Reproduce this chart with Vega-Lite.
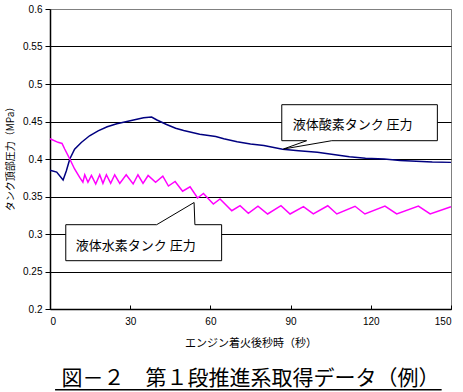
{
  "$schema": "https://vega.github.io/schema/vega-lite/v6.json",
  "width": 401,
  "height": 300,
  "autosize": "none",
  "padding": {"left": 50, "top": 9, "right": 12, "bottom": 83},
  "background": "white",
  "config": {
    "view": {"stroke": "#808080", "strokeWidth": 1},
    "axis": {"domainColor": "black", "tickColor": "black", "labelColor": "black", "titleColor": "black", "labelFont": "Liberation Sans", "labelFontSize": 10, "titleFont": "Noto Sans CJK JP", "titleFontWeight": "normal"}
  },
  "title": {"text": "図－２　第１段推進系取得データ（例）", "orient": "bottom", "offset": -22, "fontSize": 21, "font": "Noto Sans CJK JP", "fontWeight": "normal", "color": "black", "anchor": "middle"},
  "datasets": {
    "series": [
      {"s": "LOX", "t": 0, "v": 0.385}, {"s": "LOX", "t": 2.5, "v": 0.3825}, {"s": "LOX", "t": 4.9, "v": 0.372}, {"s": "LOX", "t": 6.1, "v": 0.384}, {"s": "LOX", "t": 7.4, "v": 0.4}, {"s": "LOX", "t": 9.2, "v": 0.413}, {"s": "LOX", "t": 11.7, "v": 0.422}, {"s": "LOX", "t": 14.8, "v": 0.431}, {"s": "LOX", "t": 18, "v": 0.4375}, {"s": "LOX", "t": 21.4, "v": 0.443}, {"s": "LOX", "t": 25, "v": 0.447}, {"s": "LOX", "t": 30, "v": 0.451}, {"s": "LOX", "t": 35, "v": 0.455}, {"s": "LOX", "t": 38, "v": 0.456}, {"s": "LOX", "t": 40, "v": 0.452}, {"s": "LOX", "t": 43.6, "v": 0.446}, {"s": "LOX", "t": 47, "v": 0.441}, {"s": "LOX", "t": 50, "v": 0.438}, {"s": "LOX", "t": 56, "v": 0.433}, {"s": "LOX", "t": 62, "v": 0.43}, {"s": "LOX", "t": 65, "v": 0.427}, {"s": "LOX", "t": 70, "v": 0.423}, {"s": "LOX", "t": 75, "v": 0.42}, {"s": "LOX", "t": 80, "v": 0.418}, {"s": "LOX", "t": 87, "v": 0.413}, {"s": "LOX", "t": 93, "v": 0.411}, {"s": "LOX", "t": 100, "v": 0.409}, {"s": "LOX", "t": 106, "v": 0.406}, {"s": "LOX", "t": 112, "v": 0.403}, {"s": "LOX", "t": 118, "v": 0.401}, {"s": "LOX", "t": 125, "v": 0.4}, {"s": "LOX", "t": 131, "v": 0.398}, {"s": "LOX", "t": 137, "v": 0.397}, {"s": "LOX", "t": 143, "v": 0.396}, {"s": "LOX", "t": 150, "v": 0.3955},
      {"s": "LH2", "t": 0, "v": 0.427}, {"s": "LH2", "t": 3, "v": 0.4222}, {"s": "LH2", "t": 4.5, "v": 0.4208}, {"s": "LH2", "t": 5.5, "v": 0.4133}, {"s": "LH2", "t": 7.4, "v": 0.4}, {"s": "LH2", "t": 9.2, "v": 0.3867}, {"s": "LH2", "t": 11.1, "v": 0.3755}, {"s": "LH2", "t": 12.3, "v": 0.369},
      {"s": "LH2", "t": 13.0, "v": 0.379}, {"s": "LH2", "t": 14.2, "v": 0.369}, {"s": "LH2", "t": 15.5, "v": 0.378}, {"s": "LH2", "t": 17.1, "v": 0.3667}, {"s": "LH2", "t": 18.6, "v": 0.379}, {"s": "LH2", "t": 19.8, "v": 0.3675}, {"s": "LH2", "t": 21.1, "v": 0.379}, {"s": "LH2", "t": 22.7, "v": 0.3675}, {"s": "LH2", "t": 24.2, "v": 0.379}, {"s": "LH2", "t": 26.1, "v": 0.3675}, {"s": "LH2", "t": 28.5, "v": 0.379}, {"s": "LH2", "t": 31.1, "v": 0.3667}, {"s": "LH2", "t": 32.9, "v": 0.379}, {"s": "LH2", "t": 34.8, "v": 0.3675}, {"s": "LH2", "t": 36.7, "v": 0.378}, {"s": "LH2", "t": 39.5, "v": 0.369}, {"s": "LH2", "t": 42.2, "v": 0.377}, {"s": "LH2", "t": 44.3, "v": 0.364}, {"s": "LH2", "t": 46.8, "v": 0.37}, {"s": "LH2", "t": 49.6, "v": 0.357}, {"s": "LH2", "t": 52.4, "v": 0.363}, {"s": "LH2", "t": 55.2, "v": 0.348}, {"s": "LH2", "t": 57.4, "v": 0.354}, {"s": "LH2", "t": 61.1, "v": 0.34}, {"s": "LH2", "t": 63.6, "v": 0.3467}, {"s": "LH2", "t": 68.0, "v": 0.331}, {"s": "LH2", "t": 71.1, "v": 0.3377}, {"s": "LH2", "t": 74.2, "v": 0.3275}, {"s": "LH2", "t": 77.8, "v": 0.337}, {"s": "LH2", "t": 81.4, "v": 0.3267}, {"s": "LH2", "t": 86.4, "v": 0.3377}, {"s": "LH2", "t": 89.8, "v": 0.3267}, {"s": "LH2", "t": 94.8, "v": 0.3364}, {"s": "LH2", "t": 98.5, "v": 0.3267}, {"s": "LH2", "t": 103.9, "v": 0.3377}, {"s": "LH2", "t": 107.3, "v": 0.3267}, {"s": "LH2", "t": 114.1, "v": 0.337}, {"s": "LH2", "t": 117.8, "v": 0.3267}, {"s": "LH2", "t": 125.3, "v": 0.3373}, {"s": "LH2", "t": 129.7, "v": 0.3267}, {"s": "LH2", "t": 137.8, "v": 0.3373}, {"s": "LH2", "t": 142.2, "v": 0.3267}, {"s": "LH2", "t": 150, "v": 0.3364}
    ],
    "boxes": [
      {"id": "LOX", "t": 86.7, "t2": 144.9, "v": 0.4244, "v2": 0.4724},
      {"id": "LH2", "t": 5.9, "t2": 64.2, "v": 0.2644, "v2": 0.3124}
    ],
    "outlines": [
      {"id": "LOX", "o": 1, "t": 86.7, "v": 0.4724}, {"id": "LOX", "o": 2, "t": 144.9, "v": 0.4724}, {"id": "LOX", "o": 3, "t": 144.9, "v": 0.4244}, {"id": "LOX", "o": 4, "t": 105.4, "v": 0.4244}, {"id": "LOX", "o": 5, "t": 87.3, "v": 0.4133}, {"id": "LOX", "o": 6, "t": 96, "v": 0.4244}, {"id": "LOX", "o": 7, "t": 86.7, "v": 0.4244}, {"id": "LOX", "o": 8, "t": 86.7, "v": 0.4724},
      {"id": "LH2", "o": 1, "t": 5.9, "v": 0.3124}, {"id": "LH2", "o": 2, "t": 39.9, "v": 0.3124}, {"id": "LH2", "o": 3, "t": 53.9, "v": 0.342}, {"id": "LH2", "o": 4, "t": 54.2, "v": 0.3124}, {"id": "LH2", "o": 5, "t": 64.2, "v": 0.3124}, {"id": "LH2", "o": 6, "t": 64.2, "v": 0.2644}, {"id": "LH2", "o": 7, "t": 5.9, "v": 0.2644}, {"id": "LH2", "o": 8, "t": 5.9, "v": 0.3124}
    ],
    "labels": [
      {"t": 113.2, "v": 0.4457, "label": "液体酸素タンク 圧力"},
      {"t": 32.1, "v": 0.2844, "label": "液体水素タンク 圧力"}
    ],
    "underline": [
      {"t": 1.9, "t2": 146.5, "v": 0.0924}
    ]
  },
  "encoding": {
    "x": {"field": "t", "type": "quantitative", "scale": {"domain": [0, 150], "nice": false},
          "axis": {"values": [0, 30, 60, 90, 120, 150], "title": "エンジン着火後秒時（秒）", "titleFontSize": 11, "titlePadding": 11, "labelPadding": 11, "tickSize": -4, "grid": false, "domainWidth": 1.5}},
    "y": {"field": "v", "type": "quantitative", "scale": {"domain": [0.2, 0.6], "nice": false, "zero": false},
          "axis": {"values": [0.2, 0.25, 0.3, 0.35, 0.4, 0.45, 0.5, 0.55, 0.6], "format": ".2~f", "labelOverlap": false, "title": "タンク頂部圧力（MPa）", "titleFontSize": 10, "titlePadding": 7, "titleY": 147, "tickSize": 5, "labelPadding": 3, "grid": true, "gridColor": {"condition": {"test": "datum.value > 0.59", "value": "#808080"}, "value": "black"}, "gridOpacity": 1, "domainWidth": 1.5}}
  },
  "layer": [
    {
      "data": {"name": "series"},
      "mark": {"type": "line", "strokeWidth": 1.5, "interpolate": "linear"},
      "encoding": {
        "color": {"field": "s", "type": "nominal", "scale": {"domain": ["LOX", "LH2"], "range": ["#000080", "#FF00FF"]}, "legend": null},
        "order": {"field": "t", "type": "quantitative"}
      }
    },
    {
      "data": {"name": "boxes"},
      "mark": {"type": "rect", "fill": "white", "strokeWidth": 0},
      "encoding": {
        "x2": {"field": "t2"},
        "y2": {"field": "v2"}
      }
    },
    {
      "data": {"name": "outlines"},
      "mark": {"type": "line", "color": "black", "strokeWidth": 1},
      "encoding": {
        "detail": {"field": "id"},
        "order": {"field": "o", "type": "quantitative"}
      }
    },
    {
      "data": {"name": "labels"},
      "mark": {"type": "text", "font": "Noto Sans CJK JP", "fontSize": 13, "color": "black", "align": "center", "baseline": "middle"},
      "encoding": {
        "text": {"field": "label"}
      }
    },
    {
      "data": {"name": "underline"},
      "mark": {"type": "rule", "color": "black", "strokeWidth": 1.5},
      "encoding": {
        "x2": {"field": "t2"}
      }
    }
  ]
}
